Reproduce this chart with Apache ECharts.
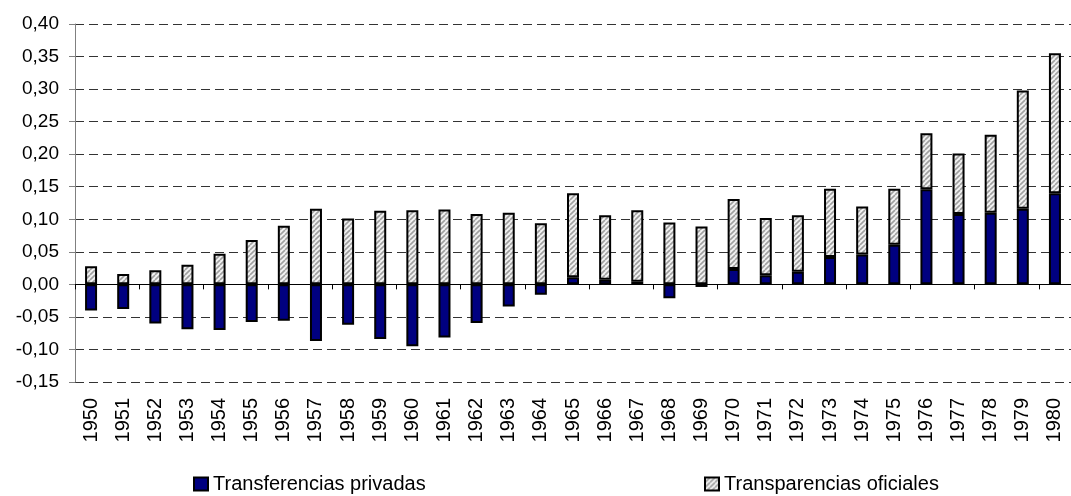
<!DOCTYPE html>
<html>
<head>
<meta charset="utf-8">
<script src="https://cdn.jsdelivr.net/npm/echarts@6/dist/echarts.min.js"></script>
<style>
html,body{margin:0;padding:0;background:#fff;}
#chart{width:1071px;height:496px;}
</style>
</head>
<body>
<div id="chart"></div>
<script>
var years = ['1950','1951','1952','1953','1954','1955','1956','1957','1958','1959','1960','1961','1962','1963','1964','1965','1966','1967','1968','1969','1970','1971','1972','1973','1974','1975','1976','1977','1978','1979','1980'];
var privadas = [-0.040,-0.038,-0.060,-0.069,-0.070,-0.058,-0.056,-0.087,-0.062,-0.084,
                -0.095,-0.0815,-0.0595,-0.034,-0.016,0.011,0.007,0.004,-0.0215,-0.004,
                0.0235,0.014,0.0195,0.042,0.046,0.061,0.146,0.108,0.110,0.116,0.140];
var oficiales = [0.028,0.016,0.0215,0.030,0.047,0.068,0.090,0.116,0.101,0.113,
                 0.114,0.115,0.108,0.110,0.094,0.129,0.099,0.110,0.095,0.089,
                 0.1075,0.088,0.0865,0.105,0.0735,0.086,0.086,0.093,0.120,0.182,0.215];
var seriesNames = ['Transferencias privadas','Transparencias oficiales'];

// hatch pattern
var s = 5;
var pc = document.createElement('canvas');
pc.width = s; pc.height = s;
var ctx = pc.getContext('2d');
ctx.fillStyle = '#f2f2f2';
ctx.fillRect(0,0,s,s);
ctx.strokeStyle = '#a0a0a0';
ctx.lineWidth = 1.6;
for (var k=-1;k<=1;k++){
  ctx.beginPath();
  ctx.moveTo(k*s, s);
  ctx.lineTo(k*s + s, 0);
  ctx.stroke();
}

var font = "'Liberation Sans', Arial, sans-serif";
var chart = echarts.init(document.getElementById('chart'));
chart.setOption({
  animation:false,
  textStyle:{fontFamily:font},
  grid:{left:75, top:24, bottom:114, right:-11.5, containLabel:false},
  legend:[
    {data:[seriesNames[0]], left:193, top:474, itemWidth:14, itemHeight:13, icon:'rect', padding:0,
     textStyle:{fontSize:20, color:'#000', fontFamily:font}},
    {data:[seriesNames[1]], left:704, top:474, itemWidth:14, itemHeight:13, icon:'rect', padding:0,
     textStyle:{fontSize:20, color:'#000', fontFamily:font}}
  ],
  xAxis:[
    {type:'category', data:years, position:'bottom',
     axisLine:{show:true, onZero:true, lineStyle:{color:'#000', width:1}},
     axisTick:{show:true, length:5, lineStyle:{color:'#000'}},
     axisLabel:{show:false}},
    {type:'category', data:years, position:'bottom', offset:0,
     axisLine:{show:false, onZero:false}, axisTick:{show:false},
     axisLabel:{show:true, rotate:90, margin:16, fontSize:20, color:'#000', fontFamily:font, interval:0}}
  ],
  yAxis:{type:'value', min:-0.15, max:0.40, interval:0.05,
    axisLine:{show:true, onZero:false, lineStyle:{color:'#808080', width:1}},
    axisTick:{show:true, length:6, lineStyle:{color:'#808080'}},
    axisLabel:{margin:16, fontSize:19, color:'#000', fontFamily:font,
      formatter:function(v){ if (Math.abs(v)<1e-9) return '0,00'; return v.toFixed(2).replace('.', ','); }},
    splitLine:{show:true, lineStyle:{color:'#333', width:1, type:[9,5]}}
  },
  series:[
    {name:seriesNames[0], type:'bar', stack:'t', data:privadas, barWidth:12, xAxisIndex:0,
     itemStyle:{color:'#000080', borderColor:'#000', borderWidth:2}},
    {name:seriesNames[1], type:'bar', stack:'t', data:oficiales, barWidth:12, xAxisIndex:0,
     itemStyle:{color:{image:pc, repeat:'repeat'}, borderColor:'#000', borderWidth:2}}
  ]
});
</script>
</body>
</html>
